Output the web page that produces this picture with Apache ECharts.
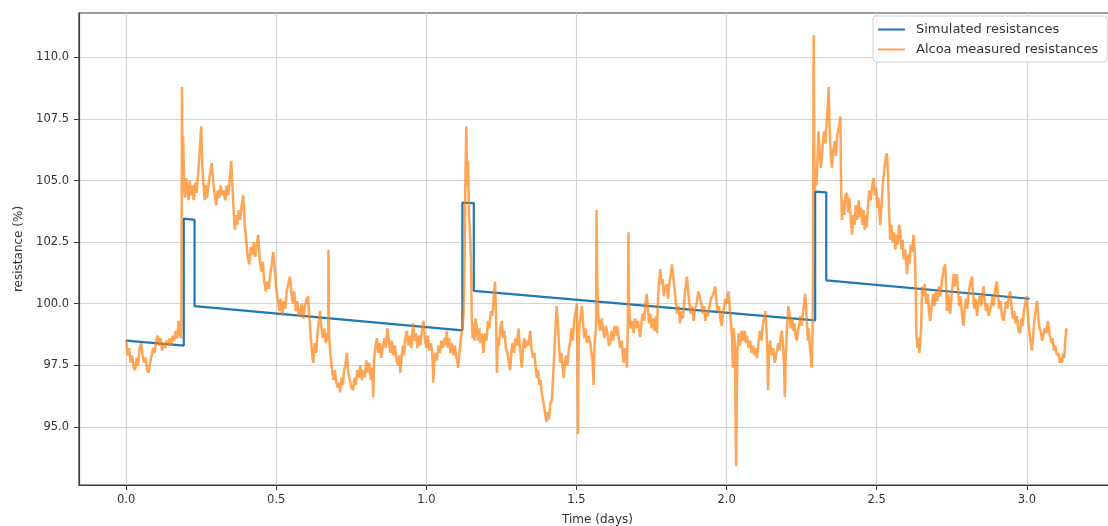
<!DOCTYPE html>
<html><head><meta charset="utf-8">
<script src="https://cdn.jsdelivr.net/npm/echarts@6/dist/echarts.min.js"></script>
<style>html,body{margin:0;padding:0;background:#fff;overflow:hidden}#c{width:1108px;height:526px}</style>
</head><body><div id="c"></div>
<script>
const xTicks = [0, 0.5, 1, 1.5, 2, 2.5, 3];
const yTicks = [95, 97.5, 100, 102.5, 105, 107.5, 110];
const seriesNames = ['Simulated resistances', 'Alcoa measured resistances'];

const simTime  = [0, 0.192, 0.192, 0.228, 0.228, 1.120, 1.120, 1.158, 1.158, 2.295, 2.295, 2.332, 2.332, 3.009];
const simValue = [98.5, 98.3, 103.45, 103.4, 99.9, 98.92, 104.1, 104.08, 100.52, 99.32, 104.55, 104.52, 100.95, 100.2];

const measured = [
[0.000,98.5],[0.005,97.9],[0.010,98.2],[0.015,97.6],[0.020,97.9],[0.025,97.4],[0.030,97.3],[0.035,97.8],[0.040,97.5],[0.045,98.2],[0.050,98.4],[0.055,97.9],[0.060,97.6],[0.065,97.8],[0.070,97.3],[0.075,97.2],[0.080,97.6],[0.085,97.9],[0.090,98.2],[0.095,98.0],[0.100,98.5],[0.105,98.7],[0.110,98.3],[0.115,98.6],[0.120,98.1],[0.125,98.4],[0.130,98.2],[0.135,98.5],[0.140,98.3],[0.145,98.6],[0.150,98.3],[0.155,98.7],[0.160,98.5],[0.165,98.9],[0.170,98.6],[0.175,99.3],[0.178,98.9],[0.182,98.6],[0.184,99.0],
[0.186,108.8],[0.188,104.5],[0.190,106.8],[0.193,105.0],[0.196,104.3],[0.200,105.1],[0.204,104.6],[0.208,104.2],[0.212,105.0],[0.216,104.4],[0.220,104.8],[0.225,104.2],[0.230,104.9],[0.235,104.5],[0.240,105.3],[0.245,106.2],[0.250,107.2],[0.254,105.5],[0.258,104.8],[0.262,104.2],[0.266,104.8],[0.270,104.3],[0.275,104.9],[0.280,105.3],[0.285,105.7],[0.290,105.0],[0.295,104.4],[0.300,104.0],[0.305,104.6],[0.310,104.3],[0.315,104.8],[0.320,104.4],[0.325,104.6],[0.330,104.2],[0.335,104.8],[0.340,104.4],[0.345,105.0],[0.350,105.8],[0.354,104.8],[0.358,103.8],[0.362,103.0],[0.366,103.6],[0.370,103.2],[0.375,103.8],[0.380,103.4],[0.385,104.0],[0.390,104.4],[0.395,103.2],[0.400,102.6],[0.405,101.9],[0.410,101.6],[0.415,102.3],[0.420,102.0],[0.425,102.5],[0.430,101.9],[0.435,102.4],[0.440,102.8],[0.445,101.8],[0.450,101.3],[0.455,101.7],[0.460,100.9],[0.465,100.5],[0.470,100.9],[0.475,100.6],[0.480,101.2],[0.485,101.6],[0.490,102.1],[0.495,101.4],[0.500,100.6],[0.505,100.2],[0.510,99.7],[0.515,100.2],[0.520,99.5],[0.525,100.1],[0.530,99.8],[0.535,100.5],[0.540,100.8],[0.546,101.1],[0.550,100.5],[0.555,100.0],[0.560,100.5],[0.565,99.7],[0.570,100.1],[0.575,99.5],[0.580,99.6],[0.585,100.0],[0.590,99.4],[0.595,99.9],[0.600,100.1],[0.606,100.3],[0.610,99.5],[0.615,98.6],[0.620,97.9],[0.623,97.6],[0.628,98.4],[0.633,98.0],[0.638,98.9],[0.642,99.3],[0.646,99.7],[0.650,99.1],[0.655,98.6],[0.660,99.0],[0.665,98.4],[0.670,98.8],[0.673,98.5],[0.674,102.2],[0.676,98.7],[0.680,98.0],[0.685,97.4],[0.690,96.9],[0.695,97.3],[0.700,96.8],[0.705,96.6],[0.710,96.8],[0.713,96.4],[0.718,97.0],[0.722,96.7],[0.726,97.3],[0.730,97.5],[0.735,98.0],[0.740,97.2],[0.745,96.9],[0.750,96.6],[0.756,96.5],[0.760,97.0],[0.765,96.7],[0.770,97.3],[0.775,97.0],[0.780,97.5],[0.785,96.9],[0.790,97.3],[0.795,97.0],[0.800,97.7],[0.805,97.2],[0.810,97.6],[0.815,96.9],[0.820,97.4],[0.823,96.2],[0.826,97.8],[0.830,98.2],[0.835,98.6],[0.840,98.0],[0.845,98.4],[0.850,97.8],[0.855,98.3],[0.860,98.6],[0.865,98.2],[0.870,99.0],[0.875,98.5],[0.880,98.0],[0.885,98.5],[0.890,97.9],[0.895,98.3],[0.900,97.8],[0.905,97.5],[0.910,97.9],[0.913,97.2],[0.918,97.9],[0.922,98.3],[0.926,97.9],[0.930,98.6],[0.935,98.9],[0.940,98.3],[0.945,98.7],[0.950,98.2],[0.956,99.2],[0.960,98.5],[0.965,98.8],[0.970,98.2],[0.975,98.7],[0.980,98.3],[0.985,98.9],[0.990,99.3],[0.995,98.6],[1.000,98.2],[1.005,98.7],[1.010,98.1],[1.015,98.4],[1.020,98.0],[1.023,96.8],[1.026,97.6],[1.030,98.0],[1.035,97.7],[1.040,98.3],[1.045,98.0],[1.050,98.5],[1.055,98.2],[1.060,98.6],[1.065,98.3],[1.068,98.9],[1.072,98.2],[1.076,98.6],[1.080,98.0],[1.085,98.4],[1.090,97.9],[1.095,98.3],[1.100,97.8],[1.106,97.4],[1.110,98.0],[1.115,98.6],[1.120,99.0],[1.124,99.6],[1.127,101.5],[1.130,105.0],[1.133,107.2],[1.136,104.8],[1.139,105.8],[1.142,103.6],[1.146,102.7],[1.149,101.5],[1.151,99.5],[1.154,98.6],[1.157,99.2],[1.160,98.5],[1.164,99.4],[1.168,99.0],[1.172,98.5],[1.176,99.0],[1.180,98.4],[1.185,98.8],[1.190,98.0],[1.195,98.8],[1.200,98.5],[1.205,99.3],[1.210,99.0],[1.215,99.7],[1.220,99.5],[1.225,100.4],[1.229,100.9],[1.232,99.5],[1.235,97.2],[1.238,98.6],[1.242,98.3],[1.246,99.0],[1.251,99.3],[1.255,98.6],[1.260,98.9],[1.265,98.2],[1.270,98.0],[1.275,97.6],[1.279,97.3],[1.283,98.0],[1.287,98.4],[1.292,98.0],[1.297,98.6],[1.302,98.3],[1.307,99.0],[1.311,98.3],[1.315,97.8],[1.318,97.4],[1.322,98.2],[1.326,98.6],[1.330,98.2],[1.335,98.5],[1.340,98.3],[1.346,98.9],[1.350,98.2],[1.355,97.8],[1.360,98.0],[1.364,97.4],[1.368,97.0],[1.372,97.3],[1.376,96.7],[1.380,96.9],[1.385,96.3],[1.390,96.0],[1.395,95.6],[1.400,95.2],[1.404,95.6],[1.408,95.3],[1.412,95.9],[1.418,96.1],[1.422,97.0],[1.426,98.0],[1.430,99.0],[1.434,99.9],[1.438,99.2],[1.442,98.2],[1.446,97.6],[1.450,98.0],[1.454,97.4],[1.457,97.0],[1.461,97.5],[1.465,97.9],[1.470,97.5],[1.475,98.2],[1.479,98.4],[1.483,99.0],[1.488,98.5],[1.492,99.3],[1.497,99.6],[1.501,100.0],[1.503,98.5],[1.505,94.7],[1.507,98.0],[1.510,99.2],[1.514,99.5],[1.518,99.9],[1.522,99.2],[1.526,98.6],[1.530,99.0],[1.535,98.4],[1.540,98.7],[1.546,98.4],[1.550,98.0],[1.554,97.6],[1.557,96.7],[1.560,98.3],[1.565,99.0],[1.567,103.8],[1.569,101.0],[1.572,99.6],[1.575,99.2],[1.579,98.9],[1.584,99.4],[1.588,99.0],[1.593,98.6],[1.598,99.1],[1.603,98.8],[1.608,98.3],[1.612,98.4],[1.617,98.9],[1.622,98.5],[1.627,99.1],[1.631,98.7],[1.635,99.1],[1.640,98.7],[1.645,98.2],[1.650,98.5],[1.654,98.0],[1.657,97.6],[1.661,98.2],[1.665,98.0],[1.668,97.4],[1.671,99.0],[1.673,102.9],[1.675,100.0],[1.679,99.0],[1.685,99.3],[1.690,98.8],[1.695,99.4],[1.700,99.0],[1.705,99.3],[1.710,98.8],[1.712,98.65],[1.716,99.2],[1.720,99.6],[1.725,99.3],[1.730,100.0],[1.734,100.4],[1.738,99.8],[1.742,99.2],[1.746,99.6],[1.750,99.0],[1.755,99.4],[1.760,98.9],[1.765,99.5],[1.768,98.8],[1.772,100.3],[1.776,101.0],[1.779,101.4],[1.783,100.8],[1.787,101.0],[1.791,100.3],[1.795,100.6],[1.801,100.8],[1.805,100.2],[1.810,100.9],[1.815,101.2],[1.818,101.6],[1.821,101.6],[1.825,100.8],[1.830,100.2],[1.835,99.6],[1.840,99.9],[1.845,99.2],[1.850,99.7],[1.855,99.4],[1.860,100.3],[1.864,100.7],[1.868,101.1],[1.872,100.5],[1.876,100.0],[1.880,99.6],[1.885,99.9],[1.890,99.3],[1.895,99.8],[1.900,100.0],[1.906,100.5],[1.912,100.5],[1.916,100.0],[1.920,99.6],[1.925,99.9],[1.929,99.3],[1.933,99.7],[1.938,99.5],[1.943,99.9],[1.948,100.2],[1.953,100.3],[1.958,100.5],[1.962,100.7],[1.966,100.1],[1.970,99.7],[1.975,99.9],[1.980,99.3],[1.984,99.1],[1.988,99.6],[1.992,99.9],[1.996,100.2],[2.001,100.0],[2.006,100.5],[2.010,99.9],[2.014,99.3],[2.018,98.6],[2.021,97.4],[2.024,99.0],[2.028,98.2],[2.030,95.0],[2.032,93.4],[2.034,96.5],[2.036,98.0],[2.040,98.8],[2.045,98.3],[2.050,98.9],[2.055,98.5],[2.060,98.9],[2.064,98.4],[2.068,98.7],[2.073,98.2],[2.078,98.5],[2.083,98.0],[2.088,98.3],[2.093,97.9],[2.097,98.2],[2.101,97.8],[2.106,98.4],[2.111,98.9],[2.116,98.5],[2.120,99.1],[2.125,99.4],[2.129,99.7],[2.133,98.9],[2.136,98.0],[2.138,96.5],[2.141,98.0],[2.145,98.5],[2.150,97.9],[2.155,98.2],[2.160,97.6],[2.164,97.6],[2.168,98.1],[2.172,98.4],[2.176,98.1],[2.180,98.6],[2.184,98.9],[2.188,98.3],[2.191,97.6],[2.194,96.2],[2.197,97.8],[2.200,98.8],[2.203,99.4],[2.206,99.9],[2.210,99.5],[2.214,99.0],[2.218,99.4],[2.222,98.9],[2.226,99.2],[2.230,98.7],[2.234,98.5],[2.238,98.9],[2.242,99.2],[2.246,99.5],[2.250,99.1],[2.254,99.6],[2.258,100.0],[2.262,100.4],[2.265,99.8],[2.268,99.1],[2.271,98.5],[2.274,99.0],[2.277,98.3],[2.280,97.9],[2.283,97.4],[2.286,98.5],[2.288,101.5],[2.290,110.9],[2.292,106.0],[2.294,104.6],[2.296,105.3],[2.299,104.8],[2.302,105.6],[2.306,107.0],[2.310,106.2],[2.314,105.5],[2.317,105.9],[2.321,106.6],[2.325,107.0],[2.329,106.5],[2.333,107.4],[2.337,108.0],[2.340,108.8],[2.343,107.2],[2.347,106.0],[2.351,105.5],[2.355,106.2],[2.360,106.6],[2.364,106.0],[2.368,106.8],[2.372,107.0],[2.376,107.3],[2.379,107.6],[2.381,105.0],[2.384,103.4],[2.388,104.2],[2.392,103.6],[2.396,104.4],[2.401,104.5],[2.405,103.7],[2.409,104.3],[2.413,103.5],[2.418,102.8],[2.422,103.6],[2.426,103.2],[2.430,104.0],[2.435,103.4],[2.440,104.2],[2.444,103.5],[2.448,103.9],[2.452,103.2],[2.456,103.8],[2.460,103.0],[2.464,103.6],[2.467,103.1],[2.471,104.0],[2.475,104.6],[2.480,104.2],[2.485,104.8],[2.490,105.1],[2.494,104.4],[2.498,104.7],[2.502,103.9],[2.506,104.3],[2.510,103.5],[2.512,103.2],[2.516,104.0],[2.520,104.8],[2.525,105.4],[2.530,105.9],[2.534,106.1],[2.538,105.2],[2.541,103.8],[2.545,102.6],[2.549,103.2],[2.553,102.5],[2.558,102.9],[2.562,102.2],[2.566,102.8],[2.570,102.4],[2.574,103.2],[2.578,103.0],[2.582,102.2],[2.586,102.6],[2.590,101.8],[2.595,102.2],[2.601,101.2],[2.605,102.0],[2.609,101.6],[2.613,102.4],[2.618,102.1],[2.623,102.8],[2.627,102.0],[2.630,100.5],[2.632,98.8],[2.635,98.2],[2.638,98.6],[2.642,98.0],[2.645,98.0],[2.648,99.0],[2.651,100.7],[2.655,100.3],[2.660,100.8],[2.665,100.0],[2.670,100.4],[2.675,99.6],[2.678,99.3],[2.683,99.9],[2.688,100.4],[2.692,99.9],[2.697,100.5],[2.702,100.1],[2.707,100.7],[2.712,100.3],[2.717,100.9],[2.723,101.4],[2.728,101.6],[2.731,100.8],[2.734,99.7],[2.738,100.4],[2.741,99.9],[2.745,99.6],[2.749,100.3],[2.753,100.8],[2.756,101.2],[2.760,100.7],[2.764,101.1],[2.767,101.2],[2.771,100.5],[2.775,99.9],[2.779,100.3],[2.784,99.6],[2.789,99.1],[2.793,99.8],[2.797,100.2],[2.801,99.8],[2.806,100.4],[2.811,100.8],[2.817,101.1],[2.821,100.4],[2.825,99.8],[2.829,100.2],[2.834,99.5],[2.838,100.0],[2.843,100.3],[2.848,99.9],[2.852,100.4],[2.856,100.7],[2.860,100.1],[2.864,99.7],[2.868,100.0],[2.873,99.5],[2.878,99.5],[2.882,100.0],[2.886,100.3],[2.890,99.9],[2.895,100.6],[2.900,100.9],[2.904,100.3],[2.908,99.8],[2.912,100.1],[2.917,99.5],[2.923,99.3],[2.927,99.8],[2.931,100.1],[2.935,99.8],[2.940,100.3],[2.945,100.5],[2.949,99.9],[2.953,99.4],[2.958,99.7],[2.962,99.2],[2.967,99.5],[2.972,98.9],[2.978,98.8],[2.982,99.4],[2.986,99.1],[2.990,99.7],[2.995,100.0],[3.000,100.3],[3.004,99.5],[3.008,98.9],[3.012,98.5],[3.017,98.1],[3.021,98.7],[3.025,99.3],[3.030,99.8],[3.034,100.1],[3.038,99.5],[3.042,99.0],[3.046,98.9],[3.051,98.5],[3.056,98.5],[3.060,99.0],[3.065,98.8],[3.070,99.3],[3.073,99.3],[3.077,98.7],[3.082,98.4],[3.086,98.6],[3.090,98.1],[3.095,98.3],[3.100,97.9],[3.105,98.0],[3.110,97.6],[3.114,97.8],[3.117,97.6],[3.121,98.0],[3.125,97.8],[3.128,98.5],[3.131,98.9],[3.134,99.0]
];

const chart = echarts.init(document.getElementById('c'), null, {renderer: 'canvas'});
const FONT = 'DejaVu Sans';
const axisCol = '#3a3a3a';
chart.setOption({
  animation: false,
  backgroundColor: '#ffffff',
  textStyle: {fontFamily: FONT},
  grid: {left: 79, width: 1037, top: 13, height: 472, containLabel: false, outerBoundsMode: 'none',
         show: true, borderColor: axisCol, borderWidth: 1.2, backgroundColor: 'transparent'},
  legend: {
    orient: 'vertical', left: 873, top: 16,
    padding: [7, 9, 6, 5], itemGap: 7, itemWidth: 27, itemHeight: 2,
    backgroundColor: 'rgba(255,255,255,0.85)', borderColor: '#d0d0d0', borderWidth: 1, borderRadius: 3,
    textStyle: {fontFamily: FONT, fontSize: 13, color: '#333', padding: [0,0,0,6]},
    data: [{name: seriesNames[0], icon: 'rect'}, {name: seriesNames[1], icon: 'rect'}]
  },
  xAxis: {
    type: 'value', min: -0.157, max: 3.297,
    name: 'Time (days)', nameLocation: 'middle', nameGap: 29,
    nameTextStyle: {fontFamily: FONT, fontSize: 12, color: '#333'},
    axisLine: {show: true, onZero: false, lineStyle: {color: axisCol, width: 1.2}},
    axisTick: {show: true, length: 5, customValues: xTicks, lineStyle: {color: axisCol, width: 1}},
    axisLabel: {customValues: xTicks, margin: 9, fontFamily: FONT, fontSize: 11.5, color: '#333', formatter: v => v.toFixed(1)},
    splitLine: {show: true, lineStyle: {color: '#d4d4d4', width: 1.2}}
  },
  yAxis: {
    type: 'value', min: 92.64, max: 111.8,
    name: 'resistance (%)', nameLocation: 'middle', nameGap: 52, nameRotate: 90,
    nameTextStyle: {fontFamily: FONT, fontSize: 12, color: '#333'},
    axisLine: {show: true, onZero: false, lineStyle: {color: axisCol, width: 1.2}},
    axisTick: {show: true, length: 5, customValues: yTicks, lineStyle: {color: axisCol, width: 1}},
    axisLabel: {customValues: yTicks, margin: 10, fontFamily: FONT, fontSize: 11.5, color: '#333', formatter: v => v.toFixed(1)},
    splitLine: {show: true, lineStyle: {color: '#d4d4d4', width: 1.2}}
  },
  series: [
    {
      name: seriesNames[0], type: 'line', symbol: 'none', showSymbol: false,
      data: simTime.map((t, i) => [t, simValue[i]]),
      itemStyle: {color: '#1f77b4'},
      lineStyle: {color: '#1f77b4', width: 2.2},
      z: 2
    },
    {
      name: seriesNames[1], type: 'line', symbol: 'none', showSymbol: false, sampling: null,
      data: measured,
      itemStyle: {color: 'rgba(255,127,14,0.7)'},
      lineStyle: {color: '#ff7f0e', opacity: 0.7, width: 2.5},
      z: 3
    }
  ]
});
</script>
</body></html>
